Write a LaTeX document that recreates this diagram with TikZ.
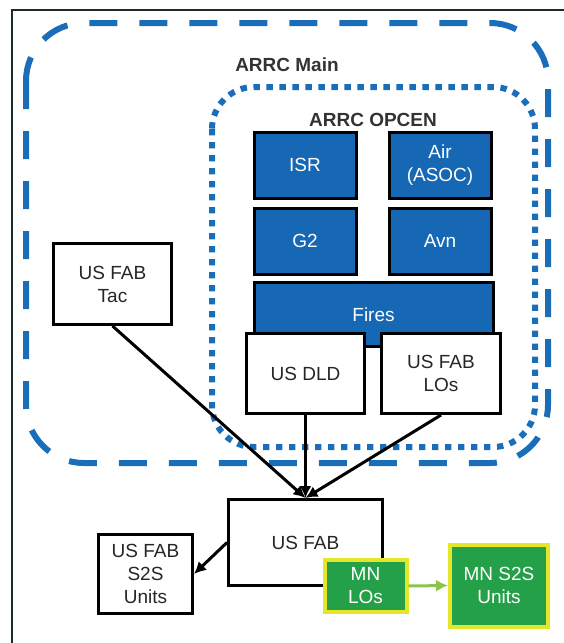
\documentclass[tikz,border=0pt]{standalone}
\usepackage{fontspec}
\setmainfont{Liberation Sans}
\usetikzlibrary{arrows.meta}
\definecolor{opblue}{RGB}{22,104,180}
\definecolor{dashblue}{RGB}{26,110,185}
\definecolor{mngreen}{RGB}{36,160,72}
\definecolor{mnyellow}{RGB}{228,230,40}
\definecolor{lgreen}{RGB}{140,195,75}
\definecolor{framedark}{RGB}{30,45,35}

\begin{document}
\begin{tikzpicture}[
    x=0.5pt, y=-0.5pt,
    boxtxt/.style={font=\fontsize{9.5}{11.5}\selectfont, align=center, inner sep=0pt},
    cellbox/.style={boxtxt, draw=black, line width=1.5pt, fill=opblue, text=white},
    unitbox/.style={boxtxt, draw=black, line width=1.5pt, fill=white, text=black!85},
    mnbox/.style={boxtxt, draw=mnyellow, line width=2pt, fill=mngreen, text=white},
    grplbl/.style={font=\fontsize{9.5}{11.5}\selectfont\bfseries, text=black!80},
    feed/.style={black, line width=1.5pt, -{Latex[length=6pt,width=6pt]}},
    mnfeed/.style={lgreen, line width=1.5pt, -{Latex[length=6pt,width=6pt]}}
]
\useasboundingbox (0,0) rectangle (563,643);

% outer frame, runs off the right and bottom edges
\draw[framedark, line width=1pt] (12,650) -- (12,10) -- (570,10);

% ---------- ARRC Main and ARRC OPCEN ----------
\draw[dashblue, line width=3pt, dash pattern=on 14pt off 11pt,
      rounded corners=29pt] (26,23) rectangle (548,463);
\node[grplbl] (mainlbl) at (287,65) {ARRC Main};

\draw[dashblue, line width=3pt, dash pattern=on 3.2pt off 3.3pt,
      rounded corners=21pt] (212,87) rectangle (535,447);
\node[grplbl] (opcenlbl) at (373,120) {ARRC OPCEN};

% ---------- OPCEN cells ----------
\node[cellbox, minimum width=51pt, minimum height=33pt] (isr) at (305,165) {ISR};
\node[cellbox, minimum width=51pt, minimum height=33pt] (air) at (440,165) {Air\\(ASOC)};
\node[cellbox, minimum width=51pt, minimum height=33pt] (g2)  at (305,241) {G2};
\node[cellbox, minimum width=51pt, minimum height=33pt] (avn) at (440,241) {Avn};
\node[cellbox, minimum width=119.5pt, minimum height=32pt] (fires) at (373.5,314.5) {Fires};

% ---------- white units ----------
\node[unitbox, minimum width=59pt, minimum height=40pt] (dld) at (305.5,373.5) {US DLD};
\node[unitbox, minimum width=59.5pt, minimum height=40pt] (fablo) at (441,373.5) {US FAB\\LOs};
\node[unitbox, minimum width=59pt, minimum height=40.5pt] (tac) at (112.5,284) {US FAB\\Tac};
\node[unitbox, minimum width=77pt, minimum height=43pt] (fab) at (305.5,542.5) {US FAB};
\node[unitbox, minimum width=47pt, minimum height=39.5pt] (s2s) at (145.5,574) {US FAB\\S2S\\Units};

% ---------- MN ----------
\node[mnbox, minimum width=41pt, minimum height=26pt] (mnlo) at (365.5,586) {MN\\LOs};
\node[mnbox, minimum width=49pt, minimum height=41pt] (mns2s) at (499,585.5) {MN S2S\\Units};

% ---------- links ----------
\draw[feed] (tac.south) -- (fab.north);
\draw[feed] (dld.south) -- (fab.north);
\draw[feed] (fablo.south) -- (fab.north);
\draw[feed] (fab.west) -- (s2s.east);
\draw[mnfeed] (mnlo.east) -- (mns2s.west);

\end{tikzpicture}
\end{document}
